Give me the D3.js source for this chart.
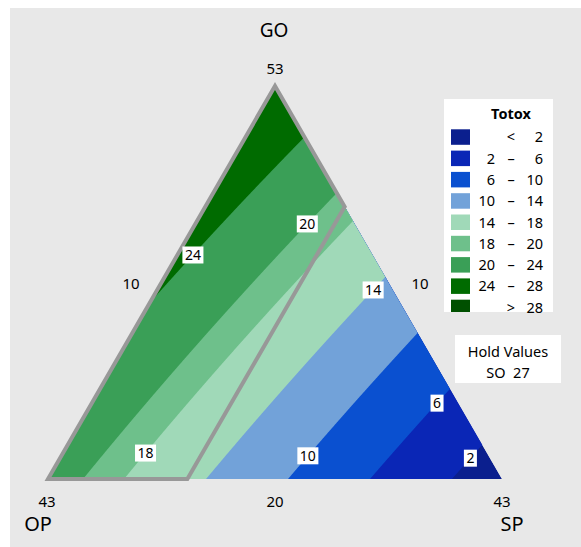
<!DOCTYPE html>
<html>
<head>
<meta charset="utf-8">
<script src="https://cdn.jsdelivr.net/npm/d3@7"></script>
<style>
  body { margin: 0; background: #ffffff; }
  text { font-family: "Noto Sans", "Open Sans", sans-serif; fill: #000; }
</style>
</head>
<body>
<svg id="chart" width="581" height="547"></svg>
<script>
// Mixture contour plot of Totox over GO / OP / SP (SO held constant)
const components = ["GO", "OP", "SP"];           // top, bottom-left, bottom-right
const vertexAmounts = ["53", "43", "43"];
const edgeTicks = ["10", "10", "20"];            // left edge, right edge, bottom edge
const holdTitle = "Hold Values";
const holdValues = ["SO  27"];

// Fitted Totox model: values at the pure GO, OP and SP vertices plus a GO*OP term
const vertexTotox = [27.65, 21.71, -0.44];
const goOpTerm = -1.5;

// Contour levels and band colours (lowest band first)
const levels = [2, 6, 10, 14, 18, 20, 24, 28];
const bandColors = ["#0b1f8e", "#0a26b6", "#0a50d0", "#72a2d9", "#a0d9b8",
                    "#6ec08b", "#3a9f57", "#006b00", "#005000"];
const legendTitle = "Totox";
const legendRows = [["", "<", "2"], ["2", "–", "6"], ["6", "–", "10"],
                    ["10", "–", "14"], ["14", "–", "18"], ["18", "–", "20"],
                    ["20", "–", "24"], ["24", "–", "28"], ["", ">", "28"]];

// Contour labels: level and the GO share at which the label sits
const contourLabels = [
  { level: 24, go: 0.570 }, { level: 20, go: 0.649 }, { level: 14, go: 0.481 },
  { level: 18, go: 0.066 }, { level: 10, go: 0.059 }, { level: 6, go: 0.193 },
  { level: 2, go: 0.053 }
];

// Outlined region: SP share at most this value (SP amount 13.2 of 43)
const spRange = 43;
const spOutlineMax = 13.2;

const svg = d3.select("#chart");

// panel background
svg.append("rect").attr("x", 10).attr("y", 8).attr("width", 571).attr("height", 539)
  .attr("fill", "#e8e8e8");

// ternary layout: x from SP share (+ half GO share), y from GO share
const x = d3.scaleLinear().domain([0, 1]).range([48, 502]);
const y = d3.scaleLinear().domain([0, 1]).range([479, 86]);
const proj = (go, sp) => [x(sp + go / 2), y(go)];

function totox(go, op, sp) {
  return go * vertexTotox[0] + op * vertexTotox[1] + sp * vertexTotox[2] + goOpTerm * go * op;
}

const vTop = proj(1, 0), vLeft = proj(0, 0), vRight = proj(0, 1);
const triPath = "M" + [vLeft, vTop, vRight].map(p => p.join(",")).join("L") + "Z";

svg.append("clipPath").attr("id", "tri").append("path").attr("d", triPath);

// sample the response on a pixel grid covering the triangle
const gx0 = 44, gy0 = 82, step = 1;
const nx = Math.ceil((506 - gx0) / step), ny = Math.ceil((483 - gy0) / step);
const values = new Float64Array(nx * ny);
for (let j = 0; j < ny; j++) {
  const go = y.invert(gy0 + j * step);
  for (let i = 0; i < nx; i++) {
    const sp = x.invert(gx0 + i * step) - go / 2;
    values[j * nx + i] = totox(go, 1 - go - sp, sp);
  }
}

const contours = d3.contours().size([nx, ny]).thresholds(levels)(values);
const gridToPx = d3.geoTransform({
  point(px, py) { this.stream.point(gx0 + (px - 0.5) * step, gy0 + (py - 0.5) * step); }
});
const path = d3.geoPath(gridToPx);

const plot = svg.append("g").attr("clip-path", "url(#tri)");
plot.append("path").attr("d", triPath).attr("fill", bandColors[0]);
plot.selectAll("path.band").data(contours).join("path")
  .attr("class", "band")
  .attr("d", path)
  .attr("fill", (d, i) => bandColors[i + 1]);

// outline of the region with low SP share
const spMax = spOutlineMax / spRange;
const outline = [vLeft, vTop, proj(1 - spMax, spMax), proj(0, spMax)];
svg.append("path")
  .attr("d", d3.line()(outline) + "Z")
  .attr("fill", "none").attr("stroke", "#989898").attr("stroke-width", 4)
  .attr("stroke-linejoin", "miter");

// contour value labels placed on their contour lines
contourLabels.forEach(lb => {
  const [a, b, c] = vertexTotox, g0 = lb.go;
  const sp = (a * g0 + b * (1 - g0) + goOpTerm * g0 * (1 - g0) - lb.level) /
             (b - c + goOpTerm * g0);
  const [px, py] = proj(g0, sp);
  const g = svg.append("g").attr("transform", `translate(${px},${py})`);
  const t = g.append("text").attr("text-anchor", "middle").attr("dy", "0.36em")
    .attr("font-size", 14).text(lb.level);
  const bb = t.node().getBBox();
  g.insert("rect", "text").attr("x", bb.x - 2.5).attr("y", -8.5)
    .attr("width", bb.width + 5).attr("height", 17).attr("fill", "#fff");
});

// component names and vertex amounts
svg.append("text").attr("x", 274).attr("y", 37).attr("text-anchor", "middle")
  .attr("font-size", 19).text(components[0]);
svg.append("text").attr("x", 275).attr("y", 74).attr("text-anchor", "middle")
  .attr("font-size", 15).text(vertexAmounts[0]);
svg.append("text").attr("x", 47).attr("y", 507).attr("text-anchor", "middle")
  .attr("font-size", 15).text(vertexAmounts[1]);
svg.append("text").attr("x", 38).attr("y", 531).attr("text-anchor", "middle")
  .attr("font-size", 20).text(components[1]);
svg.append("text").attr("x", 502).attr("y", 507).attr("text-anchor", "middle")
  .attr("font-size", 15).text(vertexAmounts[2]);
svg.append("text").attr("x", 512).attr("y", 531).attr("text-anchor", "middle")
  .attr("font-size", 20).text(components[2]);

// edge tick labels
svg.append("text").attr("x", 131).attr("y", 289).attr("text-anchor", "middle")
  .attr("font-size", 15).text(edgeTicks[0]);
svg.append("text").attr("x", 420).attr("y", 289).attr("text-anchor", "middle")
  .attr("font-size", 15).text(edgeTicks[1]);
svg.append("text").attr("x", 275).attr("y", 507).attr("text-anchor", "middle")
  .attr("font-size", 15).text(edgeTicks[2]);

// legend
const legend = svg.append("g");
legend.append("rect").attr("x", 444).attr("y", 99).attr("width", 109).attr("height", 213)
  .attr("fill", "#fff");
legend.append("text").attr("x", 511).attr("y", 119).attr("text-anchor", "middle")
  .attr("font-size", 14.5).attr("font-weight", "bold").text(legendTitle);
const rowY = d3.scaleLinear().domain([0, 1]).range([129.3, 150.6]);
legendRows.forEach((r, i) => {
  const y0 = rowY(i);
  const h = Math.min(15.5, 312 - y0);
  legend.append("rect").attr("x", 451).attr("y", y0).attr("width", 19).attr("height", h)
    .attr("fill", bandColors[i]);
  const ty = y0 + 13;
  if (ty < 314) {
    legend.append("text").attr("x", 495).attr("y", ty).attr("text-anchor", "end")
      .attr("font-size", 14.5).text(r[0]);
    legend.append("text").attr("x", 511).attr("y", ty).attr("text-anchor", "middle")
      .attr("font-size", 14.5).text(r[1]);
    legend.append("text").attr("x", 543).attr("y", ty).attr("text-anchor", "end")
      .attr("font-size", 14.5).text(r[2]);
  }
});

// hold values box
const hold = svg.append("g");
hold.append("rect").attr("x", 455).attr("y", 335).attr("width", 106).attr("height", 48)
  .attr("fill", "#fff");
hold.append("text").attr("x", 508).attr("y", 357).attr("text-anchor", "middle")
  .attr("font-size", 14.5).text(holdTitle);
holdValues.forEach((v, i) => {
  hold.append("text").attr("x", 508).attr("y", 378 + i * 20).attr("text-anchor", "middle")
    .attr("font-size", 14.5).style("white-space", "pre").text(v);
});
</script>
</body>
</html>
